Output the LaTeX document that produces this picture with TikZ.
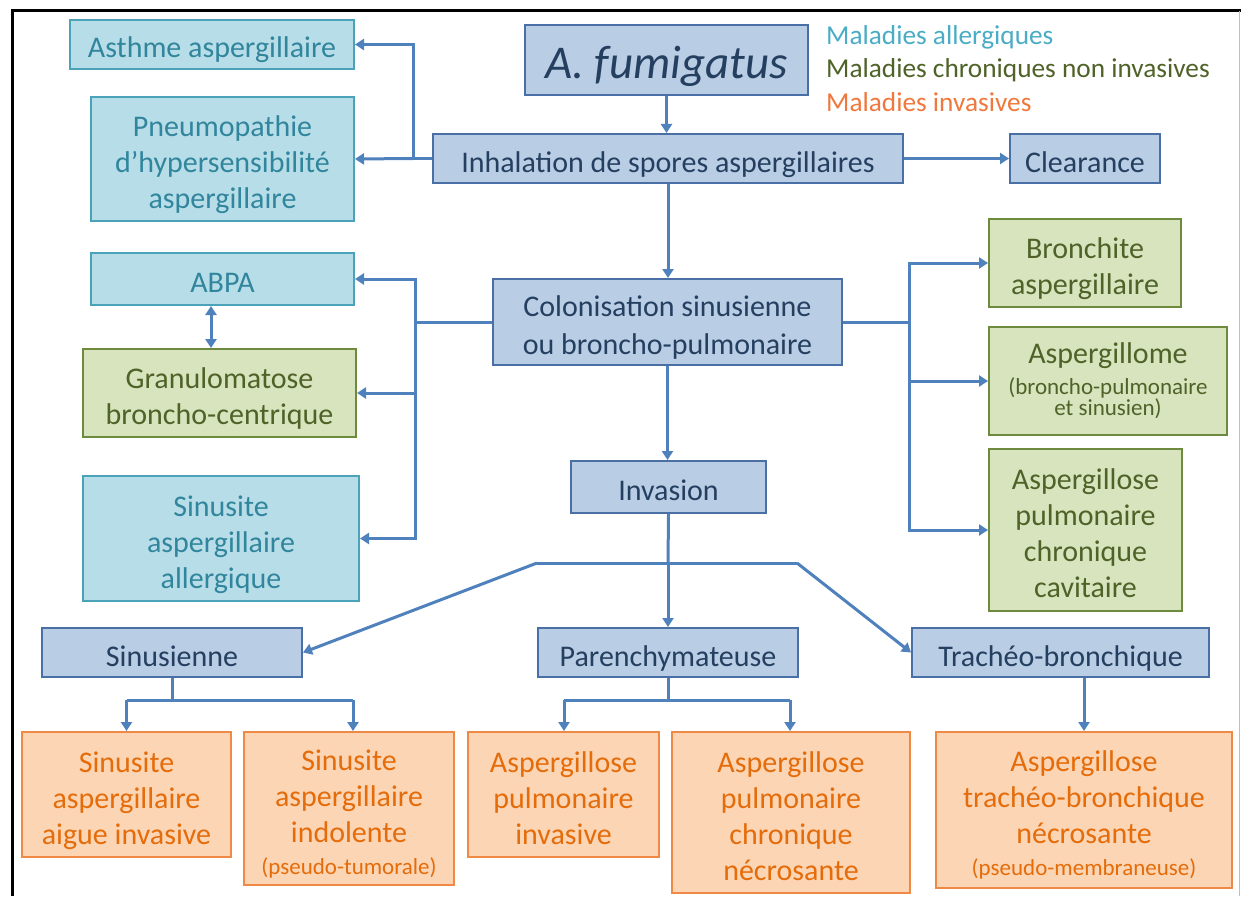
\documentclass[tikz,border=0pt]{standalone}
\usepackage{fontspec}
\setmainfont{Carlito}
\usetikzlibrary{arrows.meta}
\definecolor{bfill}{HTML}{B9CDE5}
\definecolor{bdraw}{HTML}{4A6FA5}
\definecolor{btext}{HTML}{243F60}
\definecolor{lfill}{HTML}{B7DEE8}
\definecolor{ldraw}{HTML}{4BA3BA}
\definecolor{ltext}{HTML}{31859C}
\definecolor{gfill}{HTML}{D7E4BD}
\definecolor{gdraw}{HTML}{6E8B3D}
\definecolor{gtext}{HTML}{4F6228}
\definecolor{ofill}{HTML}{FCD5B5}
\definecolor{odraw}{HTML}{EE8A45}
\definecolor{otext}{HTML}{E46C0A}
\definecolor{conn}{HTML}{4F81BD}
\definecolor{legl}{HTML}{4BACC6}
\definecolor{lego}{HTML}{F0783C}
\newcommand{\smtxt}{\fontsize{23}{23}\selectfont}
\newcommand{\fstrut}{\rule{0pt}{33pt}}
\newcommand{\lstrut}{\rule[-6pt]{0pt}{6pt}}
\begin{document}
\begin{tikzpicture}[x=1pt,y=-1pt,
  box/.style={draw, line width=2pt, align=center, inner sep=0pt, font=\fontsize{30}{36}\selectfont},
  bbox/.style={box, fill=bfill, draw=bdraw, text=btext},
  lbox/.style={box, fill=lfill, draw=ldraw, text=ltext},
  gbox/.style={box, fill=gfill, draw=gdraw, text=gtext},
  obox/.style={box, fill=ofill, draw=odraw, text=otext},
  wire/.style={draw=conn, line width=3pt},
  arr/.style={wire, -{Triangle[length=9pt,width=11pt]}},
  darr/.style={wire, {Triangle[length=9pt,width=11pt]}-{Triangle[length=9pt,width=11pt]}},
  legend/.style={anchor=west, inner sep=0pt, font=\fontsize{27.3}{27.3}\selectfont}]
\useasboundingbox (0,0) rectangle (1241,896);
\fill[white] (0,0) rectangle (1241,896);
% frame
\draw[line width=3pt] (12,896) -- (12,11) -- (1241,11);
\draw[black!25, line width=1pt] (1239,11) -- (1239,896);

% legend
\node[legend, text=legl] (lg1) at (826,37) {Maladies allergiques};
\node[legend, text=gtext] (lg2) at (826,70) {Maladies chroniques non invasives};
\node[legend, text=lego] (lg3) at (826,102) {Maladies invasives};

% blue nodes
\node[bbox, minimum width=283pt, minimum height=70pt, font=\fontsize{47}{47}\selectfont\itshape] (fum) at (666.5,60) {\rule{0pt}{46pt}A. fumigatus\rule[-9pt]{0pt}{9pt}};
\node[bbox, minimum width=470pt, minimum height=49pt] (inh) at (668,158.5) {\fstrut Inhalation de spores aspergillaires\lstrut};
\node[bbox, minimum width=150pt, minimum height=49pt] (clr) at (1085,158.5) {\fstrut Clearance\lstrut};
\node[bbox, minimum width=349pt, minimum height=86pt] (col) at (667.5,322) {\fstrut Colonisation sinusienne\\[2pt]ou broncho-pulmonaire\lstrut};
\node[bbox, minimum width=195pt, minimum height=52pt] (inv) at (668.5,487) {\fstrut Invasion\lstrut};
\node[bbox, minimum width=260pt, minimum height=49pt] (sinu) at (172,652.5) {\fstrut Sinusienne\lstrut};
\node[bbox, minimum width=260pt, minimum height=49pt] (par) at (668,652.5) {\fstrut Parenchymateuse\lstrut};
\node[bbox, minimum width=297pt, minimum height=49pt] (trach) at (1060.5,652.5) {\fstrut Trachéo-bronchique\lstrut};

% light blue
\node[lbox, minimum width=284pt, minimum height=49pt] (asth) at (212,44.5) {\fstrut Asthme aspergillaire\lstrut};
\node[lbox, minimum width=263pt, minimum height=124pt] (pneu) at (222.5,159) {\fstrut Pneumopathie\\d’hypersensibilité\\aspergillaire\lstrut};
\node[lbox, minimum width=263pt, minimum height=52pt] (abpa) at (222.5,279) {\fstrut ABPA\lstrut};
\node[lbox, minimum width=276pt, minimum height=125pt] (sina) at (221,538.5) {\fstrut Sinusite\\aspergillaire\\allergique\lstrut};

% green
\node[gbox, minimum width=273pt, minimum height=88pt] (gran) at (219.5,393) {\fstrut Granulomatose\\broncho-centrique\lstrut};
\node[gbox, minimum width=192pt, minimum height=88pt] (bron) at (1085,263) {\fstrut Bronchite\\aspergillaire\lstrut};
\node[gbox, minimum width=238pt, minimum height=108pt] (aspm) at (1108,381) {Aspergillome\\[-5pt]\smtxt(broncho-pulmonaire\\[-15pt]\smtxt et sinusien)};
\node[gbox, minimum width=193pt, minimum height=162pt] (apcc) at (1085.5,530) {\fstrut Aspergillose\\pulmonaire\\chronique\\cavitaire\lstrut};

% orange
\node[obox, minimum width=209pt, minimum height=125pt] (saig) at (126.5,794.5) {\fstrut Sinusite\\aspergillaire\\aigue invasive\lstrut};
\node[obox, minimum width=210pt, minimum height=153pt] (sind) at (349,808.5) {\fstrut Sinusite\\aspergillaire\\indolente\\[-4pt]\smtxt(pseudo-tumorale)\lstrut};
\node[obox, minimum width=191pt, minimum height=125pt] (api) at (563.5,794.5) {\fstrut Aspergillose\\pulmonaire\\invasive\lstrut};
\node[obox, minimum width=238pt, minimum height=161pt] (apcn) at (791,812.5) {\fstrut Aspergillose\\pulmonaire\\chronique\\nécrosante\lstrut};
\node[obox, minimum width=296pt, minimum height=156pt] (atb) at (1084,810) {\fstrut Aspergillose\\trachéo-bronchique\\nécrosante\\[-4pt]\smtxt(pseudo-membraneuse)\lstrut};

% junction coordinates
\coordinate (jL) at (413,158.5);
\coordinate (jC) at (415,322);
\coordinate (jR) at (909,322);
\coordinate (gx) at (211,0);
\coordinate (hL) at (537,563);
\coordinate (hM) at (668,563);
\coordinate (hR) at (797,563);
\coordinate (sJ) at (172,700);
\coordinate (sA) at (126.5,700);
\coordinate (sB) at (353,700);
\coordinate (pJ) at (668,700);
\coordinate (pA) at (564,700);
\coordinate (pB) at (790,700);

% connectors
\draw[arr] (fum.south) -- (fum.south |- inh.north);
\draw[wire] (inh.west) -- (jL);
\draw[arr] (jL) -- (pneu.east);
\draw[arr] (jL) |- (asth.east);
\draw[arr] (inh.east) -- (clr.west);
\draw[arr] (inh.south) -- (inh.south |- col.north);

\draw[wire] (col.west) -- (jC);
\draw[arr] (jC) |- (abpa.east);
\draw[arr] (jC) |- (sina.east);
\draw[arr] (jC |- gran.east) -- (gran.east);
\draw[darr] (abpa.south -| gx) -- (gran.north -| gx);

\draw[wire] (col.east) -- (jR);
\draw[arr] (jR) |- (bron.west);
\draw[arr] (jR) |- (apcc.west);
\draw[arr] (jR |- aspm.west) -- (aspm.west);

\draw[arr] (col.south) -- (col.south |- inv.north);
\draw[wire] (inv.south) -- (hM);
\draw[arr] (hM) -- (hM |- par.north);
\draw[wire, line join=round] (hL) -- (hR);
\draw[arr] (hL) -- (sinu.east);
\draw[arr] (hR) -- (trach.west);

\draw[wire] (sinu.south) -- (sJ);
\draw[wire] (sA) -- (sB);
\draw[arr] (sA) -- (sA |- saig.north);
\draw[arr] (sB) -- (sB |- sind.north);

\draw[wire] (par.south) -- (pJ);
\draw[wire] (pA) -- (pB);
\draw[arr] (pA) -- (pA |- api.north);
\draw[arr] (pB) -- (pB |- apcn.north);

\draw[arr] (atb.north |- trach.south) -- (atb.north);
\end{tikzpicture}
\end{document}
